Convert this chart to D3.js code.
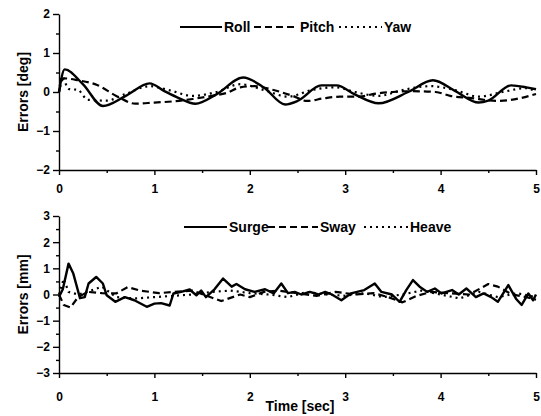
<!DOCTYPE html>
<html>
<head>
<meta charset="utf-8">
<script src="https://cdn.jsdelivr.net/npm/d3@7"></script>
<style>
  body { margin: 0; background: #fff; }
  svg { display: block; font-family: "Liberation Sans", Arial, sans-serif; font-weight: bold; }
  .axis path, .axis line { stroke: #000; stroke-width: 1.4; }
  .axis text { font-size: 12px; font-weight: bold; font-family: "Liberation Sans", Arial, sans-serif; }
</style>
</head>
<body>
<svg id="chart" width="541" height="416"></svg>
<script>
// ---- data ----
var rollT = [0, 0.06, 0.25, 0.46, 0.7, 0.95, 1.1, 1.25, 1.43, 1.65, 1.93, 2.15, 2.37, 2.5, 2.75, 2.91, 3.1, 3.35, 3.66, 3.92, 4.15, 4.4, 4.5, 4.74, 4.9, 5.0];
var rollV = [0, 0.58, 0.2, -0.36, -0.1, 0.22, 0.03, -0.15, -0.3, -0.06, 0.37, 0.11, -0.32, -0.23, 0.17, 0.17, -0.06, -0.29, 0.0, 0.3, 0.03, -0.27, -0.22, 0.17, 0.12, 0.07];

var pitchT = [0, 0.05, 0.2, 0.4, 0.6, 0.8, 1.0, 1.2, 1.4, 1.6, 1.75, 1.9, 2.05, 2.25, 2.45, 2.6, 2.78, 2.95, 3.15, 3.3, 3.5, 3.7, 3.95, 4.1, 4.3, 4.6, 4.85, 5.0];
var pitchV = [0, 0.35, 0.3, 0.18, -0.1, -0.3, -0.27, -0.24, -0.18, -0.1, -0.03, 0.12, 0.15, 0.05, -0.1, -0.23, -0.16, -0.12, -0.12, -0.05, 0.0, 0.02, 0.0, -0.1, -0.15, -0.23, -0.15, -0.05];

var yawT = [0, 0.03, 0.1, 0.2, 0.3, 0.5, 0.7, 0.95, 1.15, 1.4, 1.65, 1.9, 2.15, 2.4, 2.65, 2.9, 3.1, 3.35, 3.6, 3.9, 4.15, 4.4, 4.65, 4.9, 5.0];
var yawV = [0, 0.4, 0.08, 0.05, -0.2, -0.22, -0.05, 0.15, 0.05, -0.1, 0.0, 0.2, 0.05, -0.12, 0.05, 0.12, 0.0, -0.1, 0.05, 0.15, 0.05, -0.12, 0.0, 0.1, 0.0];

var surgeT = [0, 0.04, 0.1, 0.15, 0.22, 0.27, 0.31, 0.39, 0.46, 0.5, 0.59, 0.69, 0.79, 0.92, 1.0, 1.07, 1.16, 1.2, 1.28, 1.37, 1.44, 1.49, 1.54, 1.63, 1.72, 1.81, 1.86, 1.95, 2.05, 2.16, 2.25, 2.33, 2.4, 2.47, 2.54, 2.63, 2.72, 2.79, 2.86, 2.96, 3.06, 3.2, 3.31, 3.38, 3.49, 3.57, 3.64, 3.71, 3.78, 3.86, 3.94, 4.01, 4.12, 4.19, 4.27, 4.37, 4.45, 4.53, 4.6, 4.71, 4.79, 4.85, 4.92, 4.97, 5.0];
var surgeV = [-0.09, 0.2, 1.18, 0.8, -0.14, -0.1, 0.42, 0.67, 0.42, -0.03, -0.28, -0.1, -0.22, -0.47, -0.35, -0.33, -0.42, 0.04, 0.1, 0.19, -0.03, 0.15, -0.1, 0.2, 0.61, 0.3, 0.4, 0.2, 0.1, 0.2, 0.04, 0.42, 0.05, 0.1, 0.0, 0.1, 0.0, 0.1, 0.0, -0.22, 0.04, 0.17, 0.42, 0.1, 0.0, -0.28, 0.17, 0.55, 0.3, 0.1, 0.23, 0.04, 0.17, 0.0, 0.23, -0.1, 0.04, -0.1, -0.28, 0.36, -0.16, -0.4, 0.04, -0.22, 0.0];

var swayT = [0, 0.05, 0.12, 0.2, 0.3, 0.45, 0.6, 0.72, 0.85, 1.05, 1.2, 1.4, 1.55, 1.7, 1.9, 2.0, 2.15, 2.3, 2.5, 2.7, 2.9, 3.1, 3.3, 3.45, 3.6, 3.75, 3.9, 4.1, 4.3, 4.5, 4.6, 4.75, 4.9, 5.0];
var swayV = [0, -0.4, -0.5, -0.1, 0.1, 0.05, 0.04, 0.28, 0.15, 0.05, 0.1, 0.15, -0.05, -0.25, 0.0, -0.1, 0.1, 0.15, 0.05, -0.05, 0.1, 0.0, 0.05, -0.1, -0.3, -0.05, 0.1, 0.05, 0.0, 0.4, 0.3, 0.0, -0.1, -0.2];

var heaveT = [0, 0.05, 0.1, 0.2, 0.3, 0.45, 0.6, 0.8, 1.0, 1.2, 1.4, 1.6, 1.8, 2.0, 2.2, 2.4, 2.6, 2.8, 3.0, 3.2, 3.4, 3.6, 3.8, 4.0, 4.2, 4.4, 4.6, 4.8, 5.0];
var heaveV = [0, 0.6, 0.1, 0.0, 0.1, 0.3, -0.1, -0.15, -0.1, -0.05, 0.0, 0.1, 0.15, 0.05, 0.0, -0.1, 0.1, 0.0, -0.05, 0.05, -0.1, 0.0, 0.15, 0.0, -0.15, 0.1, -0.1, 0.05, -0.1];

var xTicks = [0, 1, 2, 3, 4, 5];
var topTicks = [-2, -1, 0, 1, 2];
var botTicks = [-3, -2, -1, 0, 1, 2, 3];

var DASH = "7,4", DOT = "2,4";

var svg = d3.select("#chart");

var x = d3.scaleLinear().domain([0, 5]).range([59, 536]);

function zip(t, v) { return t.map(function (d, i) { return [d, v[i]]; }); }

function panel(cfg) {
  var y = d3.scaleLinear().domain(cfg.domain).range([cfg.bottom, cfg.top]);

  // minor ticks every 0.5
  var yMinor = d3.range(cfg.domain[0], cfg.domain[1] + 0.01, 0.5).filter(function (d) { return d % 1 !== 0; });
  var xMinor = d3.range(0.5, 5, 1);

  var gx = svg.append("g").attr("class", "axis")
    .attr("transform", "translate(0," + cfg.bottom + ")")
    .call(d3.axisBottom(x).tickValues(xTicks).tickSize(5).tickSizeOuter(0).tickPadding(cfg.xPad).tickFormat(d3.format("d")));
  gx.selectAll(".tick text").attr("dy", "0.71em");
  svg.append("g").attr("class", "axis")
    .attr("transform", "translate(0," + cfg.bottom + ")")
    .call(d3.axisBottom(x).tickValues(xMinor).tickSize(3).tickFormat(""))
    .select(".domain").remove();

  svg.append("g").attr("class", "axis")
    .attr("transform", "translate(59,0)")
    .call(d3.axisLeft(y).tickValues(cfg.ticks).tickSize(6).tickSizeOuter(0).tickPadding(3).tickFormat(d3.format("d")));
  svg.append("g").attr("class", "axis")
    .attr("transform", "translate(59,0)")
    .call(d3.axisLeft(y).tickValues(yMinor).tickSize(3).tickFormat(""))
    .select(".domain").remove();

  var line = d3.line().curve(cfg.curve).x(function (d) { return x(d[0]); }).y(function (d) { return y(d[1]); });

  cfg.series.forEach(function (s) {
    svg.append("path")
      .datum(zip(s.t, s.v))
      .attr("d", line)
      .attr("fill", "none")
      .attr("stroke", "#000")
      .attr("stroke-width", s.w)
      .attr("stroke-linejoin", "round")
      .attr("stroke-dasharray", s.dash);
  });

  // legend
  var lg = svg.append("g").attr("transform", "translate(0," + cfg.legendY + ")");
  cfg.legend.forEach(function (l, i) {
    var s = cfg.series[i];
    lg.append("line").attr("x1", l.x0).attr("x2", l.x1).attr("y1", 0).attr("y2", 0)
      .attr("stroke", "#000").attr("stroke-width", 2).attr("stroke-dasharray", s.dash);
    lg.append("text").attr("x", l.x1 + 2).attr("y", 5)
      .attr("font-size", 14).attr("font-weight", "bold").text(s.name);
  });

  svg.append("text")
    .attr("transform", "translate(" + 28 + "," + ((cfg.top + cfg.bottom) / 2) + ") rotate(-90)")
    .attr("text-anchor", "middle")
    .attr("font-size", 14)
    .text(cfg.ylabel);
}

panel({
  domain: [-2, 2], top: 14, bottom: 170, ticks: topTicks, xPad: 9,
  ylabel: "Errors [deg]", legendY: 27, curve: d3.curveMonotoneX,
  series: [
    { name: "Roll", t: rollT, v: rollV, dash: null, w: 2.4 },
    { name: "Pitch", t: pitchT, v: pitchV, dash: DASH, w: 2.2 },
    { name: "Yaw", t: yawT, v: yawV, dash: DOT, w: 2.2 }
  ],
  legend: [{ x0: 180, x1: 222 }, { x0: 254, x1: 298 }, { x0: 339, x1: 382 }]
});

panel({
  domain: [-3, 3], top: 216, bottom: 373, ticks: botTicks, xPad: 14,
  ylabel: "Errors [mm]", legendY: 227, curve: d3.curveLinear,
  series: [
    { name: "Surge", t: surgeT, v: surgeV, dash: null, w: 2.4 },
    { name: "Sway", t: swayT, v: swayV, dash: DASH, w: 2.2 },
    { name: "Heave", t: heaveT, v: heaveV, dash: DOT, w: 2.2 }
  ],
  legend: [{ x0: 184, x1: 227 }, { x0: 268, x1: 318 }, { x0: 364, x1: 408 }]
});

svg.append("text")
  .attr("x", 300).attr("y", 411)
  .attr("text-anchor", "middle")
  .attr("font-size", 14)
  .text("Time [sec]");
</script>
</body>
</html>
